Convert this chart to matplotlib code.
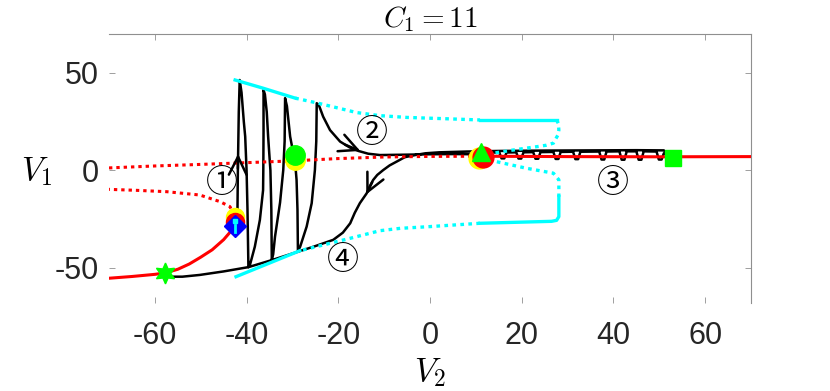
import matplotlib
matplotlib.use('Agg')
import matplotlib.pyplot as plt

plt.rcParams['mathtext.fontset'] = 'cm'
plt.rcParams['axes.unicode_minus'] = False
plt.rcParams['font.family'] = ['Liberation Sans', 'DejaVu Sans']

# ---------------- data ----------------
title_text = r'$C_1 = 11$'
x_label = r'$V_2$'
y_label = r'$V_1$'
x_ticks = [-60, -40, -20, 0, 20, 40, 60]
y_ticks = [-50, 0, 50]
x_range = (-70, 70)
y_range = (-68, 70)

# equilibrium branch (red)
eq_lo_x = [-70, -65, -60, -57.8, -55, -52.5, -50, -47.5, -45, -43.5, -42.6]
eq_lo_y = [-55.3, -54.4, -53.3, -52.6, -50.7, -48.0, -44.5, -40.7, -35.5, -31.4, -26.8]
eq_mid_x = [-42.6, -42.9, -43.6, -45.8, -50.2, -57.4, -64, -70]
eq_mid_y = [-26.8, -22.7, -18.6, -16.0, -12.6, -10.9, -10.2, -9.7]
eq_up_x = [-70, -60, -50, -40, -30, -20, -10, 0, 11.3]
eq_up_y = [1.3, 2.3, 3.1, 4.0, 4.9, 6.1, 6.9, 7.2, 7.3]
eq_st_x = [11.3, 30, 50, 70]
eq_st_y = [7.3, 7.1, 7.0, 7.1]

# periodic-orbit extrema (cyan)
pmax_s1_x = [-42.5, -36.4, -29.4]
pmax_s1_y = [46.4, 42.2, 37.1]
pmax_u1_x = [-29.4, -24.4, -16, -10.9, -5, 0, 5, 10.9]
pmax_u1_y = [37.1, 34.5, 29.7, 28.1, 27.2, 26.8, 26.4, 25.9]
pmax_s2_x = [10.9, 27.6]
pmax_s2_y = [25.9, 25.9]
pmax_u2_x = [27.6, 28.0, 28.1, 27.9, 26.9, 25.3, 23.3, 18.2, 14.5, 11.3]
pmax_u2_y = [25.9, 24.0, 20.7, 18.2, 14.0, 12.9, 12.2, 10.5, 9.1, 7.3]
pmin_u2_x = [11.3, 14.5, 21.1, 26.9, 28.1, 28.1]
pmin_u2_y = [7.3, 4.5, 1.1, -1.4, -4.8, -13.5]
pmin_s2_x = [28.1, 28.1, 27.6, 26.5, 10.9]
pmin_s2_y = [-13.5, -23.7, -25.6, -26.1, -27.1]
pmin_u1_x = [10.9, 0, -6.5, -10.9, -17.4, -28.4]
pmin_u1_y = [-27.1, -28.8, -29.7, -30.9, -34.8, -41.2]
pmin_s1_x = [-28.4, -42.3]
pmin_s1_y = [-41.2, -54.5]

# trajectory (black)
traj_x = [-42.0, -41.9, -41.7, -41.5,
          -41.1, -40.6, -40.3, -40.0, -39.8, -39.7, -39.6,
          -39.3, -38.2, -37.1, -36.4, -36.35, -36.3, -36.3,
          -36.0, -35.6, -35.3, -34.8, -34.6, -34.5,
          -34.2, -33.8, -32.7, -32.0, -31.7, -31.6,
          -31.2, -30.5, -29.4, -29.1, -28.9, -28.8,
          -28.3, -26.9, -25.8, -25.1, -24.8, -24.7,
          -24.2, -23.3, -21.8, -19.6, -17.5, -15.6, -13.5, -10.9, -5, 0, 5, 11,
          13.0,
          15.1, 15.6, 16.2, 16.7,
          18.8, 19.3, 19.9, 20.4,
          22.5, 23.0, 23.6, 24.1,
          26.9, 27.4, 28.0, 28.5,
          31.2, 31.7, 32.3, 32.8,
          36.9, 37.4, 38.0, 38.5,
          41.3, 41.8, 42.4, 42.9,
          45.0, 45.5, 46.1, 46.6,
          49.4, 49.9, 50.5, 51.0,
          52.5,
          51.0, 45, 35, 25, 15, 8, 2, -1, -3.0, -5.5, -7.3, -8.8, -10.2, -11.5, -12.4,
          -13.1, -13.8, -15.3, -16.4, -17.4, -19.0, -21.1, -25.0, -28.8, -34.5, -39.6,
          -45.0, -50.2, -54.0, -56.3, -57.8]
traj_y = [-24.5, 0, 30, 46.4,
          40, 25, 17.4, 0, -20, -35, -49.6,
          -48.8, -39.1, -25.4, -10.1, 0.2, 20, 41.3,
          39, 30, 17.4, 0, -20, -46.0,
          -43, -34, -16.5, 0.2, 15, 37.1,
          33, 17.4, 3.8, -4.8, -20, -41.7,
          -39, -28.8, -16.8, 0.2, 15, 34.5,
          33.3, 27.6, 20.7, 14.8, 11.8, 10.0, 8.6, 7.9, 8.1, 8.3, 8.4, 8.3,
          9.2,
          9.2, 6.2, 6.2, 9.2,
          9.3, 6.1, 6.1, 9.3,
          9.4, 6.0, 6.0, 9.4,
          9.5, 5.9, 5.9, 9.5,
          9.6, 5.8, 5.8, 9.6,
          9.7, 5.6, 5.6, 9.7,
          9.8, 5.5, 5.5, 9.8,
          9.8, 5.5, 5.5, 9.8,
          9.7, 5.6, 5.6, 8.8,
          6.8,
          10.3, 10.4, 10.3, 10.2, 10.0, 9.7, 9.3, 8.8, 8.0, 6.8, 4.5, 2.6, 0.2, -2.3, -4.9,
          -8.0, -11.7, -16.8, -21.7, -27.1, -31.9, -35.6, -38.8, -41.7, -46.0, -49.6,
          -51.8, -53.6, -54.5, -54.5, -53.0]

# arrows (tail -> tip)
arrows = [((-41.9, 1.0), (-41.85, 8.5)),
          ((-18.5, 13.2), (-15.2, 10.0)),
          ((-12.6, -6.0), (-13.9, -12.3))]

# circled labels
region_labels = ['①', '②', '③', '④']
region_x = [-45.4, -12.7, 39.8, -18.9]
region_y = [-6.6, 19.1, -6.6, -46.0]

# special points
star_pt = (-57.8, -52.8)
fold_yellow = (-42.5, -23.7)
fold_red = (-42.6, -26.5)
fold_diamond = (-42.5, -28.6)
hc_yellow = (-29.4, 5.4)
hc_green = (-29.4, 8.0)
hopf_yellow = (10.7, 6.2)
hopf_red = (11.6, 6.8)
hopf_tri = (11.1, 9.7)
end_square = (52.9, 6.2)

# ---------------- figure ----------------
fig = plt.figure(figsize=(8.3, 3.91), dpi=100)
ax = fig.add_axes([109 / 830, 88 / 391, 642 / 830, 269 / 391])

RED = '#FF0000'
CYAN = '#00FFFF'
GREEN = '#00FF00'
dot = (0, (1.1, 1.3))

ax.plot(traj_x, traj_y, color='black', lw=1.8, zorder=2,
        solid_joinstyle='round', solid_capstyle='round')

for xs, ys, st in [(pmax_s1_x, pmax_s1_y, '-'), (pmax_u1_x, pmax_u1_y, dot),
                   (pmax_s2_x, pmax_s2_y, '-'), (pmax_u2_x, pmax_u2_y, dot),
                   (pmin_u2_x, pmin_u2_y, dot), (pmin_s2_x, pmin_s2_y, '-'),
                   (pmin_u1_x, pmin_u1_y, dot), (pmin_s1_x, pmin_s1_y, '-')]:
    ax.plot(xs, ys, color=CYAN, lw=2.4, ls=st, dash_capstyle='butt', zorder=3)

for xs, ys, st in [(eq_lo_x, eq_lo_y, '-'), (eq_mid_x, eq_mid_y, dot),
                   (eq_up_x, eq_up_y, dot), (eq_st_x, eq_st_y, '-')]:
    ax.plot(xs, ys, color=RED, lw=2.2, ls=st, dash_capstyle='butt', zorder=3)

for tail, tip in arrows:
    ax.annotate('', xy=tip, xytext=tail,
                arrowprops=dict(arrowstyle='->,head_length=0.65,head_width=0.32',
                                color='black', lw=1.8, shrinkA=0, shrinkB=0,
                                mutation_scale=20), zorder=4)

for t, x, y in zip(region_labels, region_x, region_y):
    ax.text(x, y, t, fontsize=23, ha='center', va='center',
            family=['Noto Sans CJK JP', 'DejaVu Sans'], zorder=5)

ax.plot(*star_pt, marker=(6, 1, 0), ms=15, color=GREEN, mec=GREEN, zorder=6)
ax.plot(*fold_yellow, 'o', ms=13, color='#FFFF00', mec='#FFFF00', zorder=6)
ax.plot(*fold_red, 'o', ms=13, color=RED, mec=RED, zorder=6)
ax.plot(*fold_diamond, 'D', ms=11.5, color='#0000FF', mec='#0000FF', zorder=7)
ax.plot([fold_diamond[0]], [fold_diamond[1] + 2.8], 's', ms=2.5, color=CYAN, mec=CYAN, zorder=8)
ax.plot([fold_diamond[0], fold_diamond[0]], [fold_diamond[1] - 2.8, fold_diamond[1] + 0.8],
        color=CYAN, lw=2, zorder=8)
ax.plot(*hc_yellow, 'o', ms=14, color='#FFFF00', mec='#FFFF00', zorder=6)
ax.plot(*hc_green, 'o', ms=14, color=GREEN, mec=GREEN, zorder=7)
ax.plot(*hopf_yellow, 'o', ms=15, color='#FFFF00', mec='#FFFF00', zorder=6)
ax.plot(*hopf_red, 'o', ms=15, color=RED, mec=RED, zorder=6)
ax.plot(*hopf_tri, '^', ms=13, color=GREEN, mec=GREEN, zorder=7)
ax.plot(*end_square, 's', ms=11, color=GREEN, mec=GREEN, zorder=7)

ax.set_xlim(*x_range)
ax.set_ylim(*y_range)
ax.set_xticks(x_ticks)
ax.set_yticks(y_ticks)
ax.set_xticklabels([str(v) for v in x_ticks])
ax.set_yticklabels([str(v) for v in y_ticks])

GRAY = '#8f8f8f'
ax.tick_params(direction='in', length=4.3, width=0.6, color=GRAY,
               labelsize=22, labelcolor='#262626', top=True, right=True)
ax.tick_params(axis='x', pad=13)
ax.tick_params(axis='y', pad=7)
for s in ['left', 'bottom']:
    ax.spines[s].set_visible(False)
for s in ['top', 'right']:
    ax.spines[s].set_color(GRAY)
    ax.spines[s].set_linewidth(0.8)

ax.set_title(title_text, fontsize=21, pad=5)
ax.set_xlabel(x_label, fontsize=24)
ax.xaxis.set_label_coords(0.5, -0.26)
ax.xaxis.label.set_va('center')
ax.set_ylabel(y_label, fontsize=24, rotation=0, ha='right', va='center')
ax.yaxis.set_label_coords(-0.089, 0.49)

fig.savefig('out.png', dpi=100)
